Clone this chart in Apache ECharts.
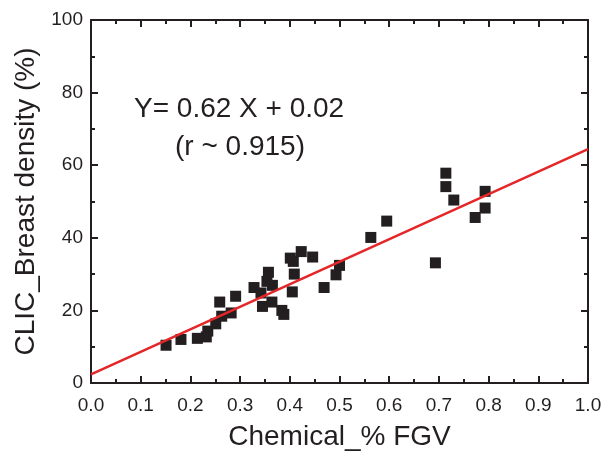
<!DOCTYPE html>
<html>
<head>
<meta charset="utf-8">
<script src="https://cdn.jsdelivr.net/npm/echarts@6/dist/echarts.min.js"></script>
<style>
  html, body { margin: 0; padding: 0; background: #fff; }
  #chart { width: 605px; height: 453px; }
</style>
</head>
<body>
<div id="chart"></div>
<script>
// measured points (Chemical % FGV vs CLIC breast density %)
const fgv = [0.151, 0.181, 0.214, 0.232, 0.235, 0.251, 0.259, 0.263, 0.282, 0.291,
             0.328, 0.345, 0.342, 0.357, 0.354, 0.365, 0.364, 0.384, 0.388, 0.401,
             0.407, 0.405, 0.409, 0.423, 0.446, 0.469, 0.493, 0.500, 0.563, 0.595,
             0.693, 0.714, 0.714, 0.730, 0.773, 0.793, 0.793];
const density = [10.4, 12.0, 12.3, 12.7, 14.3, 16.3, 22.3, 18.4, 19.3, 23.9,
                 26.3, 21.1, 24.8, 30.5, 28.0, 26.9, 22.3, 20.0, 18.9, 34.4,
                 33.5, 25.1, 30.0, 36.2, 34.7, 26.3, 29.8, 32.4, 40.1, 44.6,
                 33.1, 57.8, 54.1, 50.4, 45.6, 52.8, 48.2];

// fitted line end points
const fitX = [0, 1];
const fitY = [2.4, 64.4];

const eqLine1 = 'Y= 0.62 X + 0.02';
const eqLine2 = '(r ~ 0.915)';

const ink = '#231f20';
const font = '"Liberation Sans", Arial, sans-serif';

const chart = echarts.init(document.getElementById('chart'));

function frameAxis(extra) {
    return Object.assign({
        type: 'value',
        axisLine: { show: true, onZero: false, lineStyle: { color: ink, width: 2 } },
        axisTick: { show: true, inside: true, length: 7, lineStyle: { color: ink, width: 2 } },
        minorTick: { show: true, splitNumber: 2, length: 4, lineStyle: { color: ink, width: 2 } },
        splitLine: { show: false },
        minorSplitLine: { show: false }
    }, extra);
}

const option = {
    animation: false,
    backgroundColor: '#fff',
    grid: { left: 91, right: 17, top: 20, bottom: 70, outerBoundsMode: 'none', containLabel: false },
    xAxis: [
        frameAxis({
            position: 'bottom', min: 0, max: 1, interval: 0.1,
            name: 'Chemical_% FGV', nameLocation: 'middle', nameGap: 40,
            nameTextStyle: { color: ink, fontSize: 28, fontFamily: font },
            axisLabel: {
                color: ink, fontSize: 19, fontFamily: font, margin: 13,
                formatter: v => v.toFixed(1)
            }
        }),
        frameAxis({
            position: 'top', min: 0, max: 1, interval: 0.1,
            axisLabel: { show: false }
        })
    ],
    yAxis: [
        frameAxis({
            position: 'left', min: 0, max: 100, interval: 20,
            name: 'CLIC_Breast density (%)', nameLocation: 'middle', nameGap: 46,
            nameTextStyle: { color: ink, fontSize: 28, fontFamily: font },
            axisLabel: { color: ink, fontSize: 19, fontFamily: font, margin: 8 }
        }),
        frameAxis({
            position: 'right', min: 0, max: 100, interval: 20,
            axisLabel: { show: false }
        })
    ],
    graphic: [
        {
            type: 'text', left: 134, top: 95,
            style: { text: eqLine1, fill: ink, fontSize: 28, fontFamily: font }
        },
        {
            type: 'text', left: 175, top: 133,
            style: { text: eqLine2, fill: ink, fontSize: 28, fontFamily: font }
        }
    ],
    series: [
        {
            type: 'line',
            data: fitX.map((x, i) => [x, fitY[i]]),
            showSymbol: false,
            lineStyle: { color: '#e52629', width: 2.5 },
            z: 3
        },
        {
            type: 'scatter',
            data: fgv.map((x, i) => [x, density[i]]),
            symbol: 'rect',
            symbolSize: 11,
            itemStyle: { color: ink, opacity: 1 },
            z: 2
        }
    ]
};

chart.setOption(option);
</script>
</body>
</html>
